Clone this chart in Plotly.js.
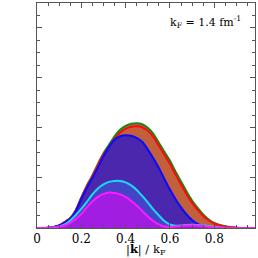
<!DOCTYPE html>
<html>
<head>
<meta charset="utf-8">
<script src="https://cdn.plot.ly/plotly-3.0.1.min.js"></script>
<style>html,body{margin:0;padding:0;background:#fff;}#chart{width:258px;height:258px;}</style>
</head>
<body>
<div id="chart"></div>
<script>
// |k|/kF grid
var kx = [0,0.025,0.05,0.075,0.1,0.125,0.15,0.175,0.2,0.225,0.25,0.275,0.3,0.325,0.35,0.375,0.4,0.425,0.45,0.475,0.5,0.525,0.55,0.575,0.6,0.625,0.65,0.675,0.7,0.725,0.75,0.775,0.8,0.825,0.85,0.875,0.9,0.925,0.95,0.975,1.0];
var greenTotal = [0,0,0.005,0.02,0.05,0.12,0.2,0.36,0.61,0.85,1.05,1.28,1.49,1.66,1.83,1.96,2.04,2.08,2.09,2.07,2.00,1.88,1.70,1.52,1.34,1.13,0.93,0.73,0.55,0.40,0.27,0.17,0.10,0.06,0.035,0.018,0.007,0.002,0,0,0];
var redTotal   = [0,0,0.005,0.02,0.05,0.12,0.19,0.35,0.60,0.83,1.03,1.26,1.47,1.62,1.78,1.90,1.98,2.02,2.03,2.01,1.94,1.82,1.64,1.46,1.28,1.07,0.87,0.67,0.50,0.36,0.24,0.15,0.09,0.05,0.03,0.015,0.005,0,0,0,0];
var blueComp   = [0,0,0.005,0.02,0.05,0.11,0.18,0.33,0.58,0.80,1.00,1.21,1.43,1.62,1.76,1.83,1.85,1.84,1.80,1.72,1.57,1.39,1.20,0.98,0.77,0.58,0.41,0.27,0.16,0.08,0.04,0.015,0.005,0,0,0,0,0,0,0,0];
var cyanComp   = [0,0,0.003,0.01,0.03,0.07,0.15,0.26,0.38,0.52,0.67,0.79,0.87,0.92,0.94,0.94,0.91,0.85,0.76,0.64,0.51,0.37,0.25,0.14,0.07,0.045,0.05,0.06,0.065,0.06,0.05,0.035,0.02,0.01,0.003,0,0,0,0,0,0];
var magentaComp= [0,0,0.003,0.01,0.025,0.05,0.10,0.18,0.28,0.41,0.53,0.62,0.68,0.71,0.70,0.67,0.62,0.54,0.45,0.34,0.23,0.14,0.07,0.03,0.02,0.03,0.04,0.05,0.055,0.05,0.04,0.025,0.012,0.004,0,0,0,0,0,0,0];

var xTickVals = [0,0.2,0.4,0.6,0.8];
var xTickText = ['0','0.2','0.4','0.6','0.8'];

function area(y, line, fill){
  return {x: kx, y: y, type:'scatter', mode:'lines', fill:'tozeroy', fillcolor: fill,
    line:{color: line, width:2, shape:'spline', smoothing:0.5}, hoverinfo:'skip', showlegend:false};
}
var data = [
  area(greenTotal, '#128a12', '#c2603e'),
  area(redTotal, '#ff0a0a', '#c2603e'),
  area(blueComp, '#0a0aff', '#4a27ad'),
  area(cyanComp, '#1cd8ff', '#4444c6'),
  area(magentaComp, '#ff1aff', '#a21de2')
];
var axcol = '#555';
var serif = 'DejaVu Serif, Liberation Serif, serif';
var layout = {
  width:258, height:258,
  margin:{l:37, r:3, t:3, b:30},
  paper_bgcolor:'#fff', plot_bgcolor:'#fff',
  font:{family:serif, color:'#000', size:12},
  xaxis:{range:[0,0.984], tickvals:xTickVals, ticktext:xTickText, ticks:'inside', ticklen:5, tickcolor:axcol,
    showline:true, linecolor:axcol, linewidth:1, mirror:'ticks', showgrid:false, zeroline:false,
    tickfont:{family:serif, size:12, color:'#000'}, ticklabelstandoff:0,
    minor:{dtick:0.05, tick0:0, ticks:'inside', ticklen:3, tickcolor:axcol, showgrid:false}},
  yaxis:{range:[0,4.49], dtick:1, tick0:0, ticks:'inside', ticklen:5, tickcolor:axcol, showticklabels:false,
    showline:true, linecolor:axcol, linewidth:1, mirror:'ticks', showgrid:false, zeroline:false,
    minor:{dtick:0.25, tick0:0, ticks:'inside', ticklen:3, tickcolor:axcol, showgrid:false}},
  annotations:[
    {xref:'paper', yref:'paper', x:0.945, y:0.915, xanchor:'right', yanchor:'middle', showarrow:false,
     text:'k<sub>F</sub> = 1.4 fm<sup>-1</sup>', font:{family:serif, size:11, color:'#000'}},
    {xref:'paper', yref:'paper', x:0.5, y:-0.097, xanchor:'center', yanchor:'middle', showarrow:false,
     text:'|<b>k</b>| / k<sub>F</sub>', font:{family:serif, size:11.5, color:'#000'}}
  ]
};
Plotly.newPlot('chart', data, layout, {staticPlot:true, displayModeBar:false});
</script>
</body>
</html>
